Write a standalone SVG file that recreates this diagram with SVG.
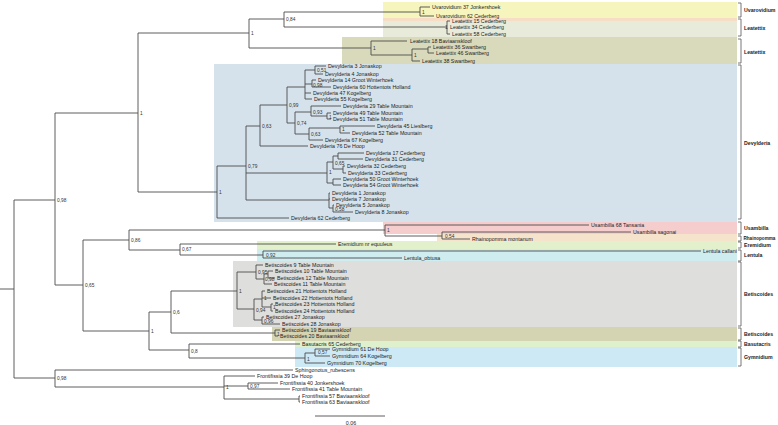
<svg xmlns="http://www.w3.org/2000/svg" width="778" height="425" viewBox="0 0 778 425">
<style>
text{font-family:"Liberation Sans",Arial,sans-serif;dominant-baseline:central}
.t{font-size:5.3px;fill:#222}
.s{font-size:4.8px;fill:#333}
.g{font-size:5.2px;font-weight:bold;fill:#222}
.e{fill:none;stroke:#4d4d4d;stroke-width:0.9}
.b{fill:none;stroke:#555;stroke-width:0.8}
</style>
<rect width="778" height="425" fill="#fff"/>
<g id="bands">
<rect x="383" y="2" width="354" height="16" fill="#f5f5bd"/>
<rect x="383" y="18" width="354" height="3" fill="#f7dcc6"/>
<rect x="383" y="21" width="354" height="16" fill="#e9ebda"/>
<rect x="342" y="37" width="395" height="27" fill="#d9dabb"/>
<rect x="214" y="64" width="523" height="158" fill="#d6e2eb"/>
<rect x="383" y="222" width="354" height="12" fill="#f6cdcd"/>
<rect x="437" y="234" width="300" height="7" fill="#f6e3cc"/>
<rect x="257" y="241" width="480" height="8" fill="#e2f1cc"/>
<rect x="257" y="249" width="480" height="12" fill="#cfecef"/>
<rect x="233" y="261" width="504" height="66" fill="#dededc"/>
<rect x="272" y="327" width="465" height="14" fill="#d4d4b3"/>
<rect x="295" y="341" width="442" height="6" fill="#dff1cc"/>
<rect x="295" y="347" width="442" height="20" fill="#cce9f5"/>
</g>
<g id="connectors" class="e">
<path d="M0 289H14M14 200V378M14 200H55M55 113V285M55 113H138M138 33V192M138 33H249M249 19V48M249 19H284M284 12V27M284 12H420M420 7V16M420 7H430M420 16H434M284 27H447M447 21V34M447 21H450M447 34H450M249 48H371M371 41V55M371 41H407M371 55H412M412 49V61M412 49H428M428 47V53M428 47H431M428 53H434M412 61H420"/>
<path d="M138 192H217M217 166V218M217 218H289M217 166H246M246 126V200M246 126H260M260 105V146M260 146H308M260 105H287M287 87V123M287 87H305M305 70V99M305 70H315M315 66V74M315 66H326M315 74H323M305 84H312M312 80V87M312 80H316M312 87H331M305 93H311M305 99H312M287 123H295M295 112V134M295 112H311M311 106V116M311 106H341M311 116H327M327 113V119M327 113H331M327 119H331M295 134H309M309 128V140M309 128H340M340 126V133M340 126H375M340 133H350M309 140H323"/>
<path d="M246 173H327M327 162V183M327 162H333M333 156V169M333 156H338M338 153V159M338 153H364M338 159H363M333 169H343M343 166V173M343 166H345M343 173H346M327 183H333M333 179V185M333 179H341M333 185H341M246 200H329M329 193V208M329 193H330M329 199H330M329 208H333M333 205V212M333 205H334M333 212H353"/>
<path d="M14 378H55M55 370V387M55 370H293M55 387H224M224 376V399M224 376H255M224 386H248M248 383V389M248 383H278M248 389H290M224 399H299M299 396V402M299 396H300M299 402H300"/>
<path d="M55 285H83M83 240V331M83 240H129M129 230V250M129 230H385M385 225V236M385 225H589M385 236H442M442 232V239M442 232H631M442 239H470M129 250H180M180 244V255M180 244H336M180 255H263M263 251V258M263 251H701M263 258H402"/>
<path d="M83 331H149M149 312V350M149 312H171M171 291V333M171 291H237M237 272V309M237 272H256M256 265V279M256 265H263M256 279H264M264 274V284M264 274H268M268 271V278M268 271H273M268 278H275M264 284H272M237 309H254M254 299V320M254 299H262M262 291V307M262 291H265M262 298H271M262 307H271M271 304V311M271 304H273M271 311H273M254 320H262M262 317V324M262 317H264M262 324H280M171 333H275M275 330V336M275 330H280M275 336H278M149 350H189M189 344V358M189 344H300M189 358H305M305 353V363M305 353H315M315 349V356M315 349H330M315 356H330M305 363H325"/>
<path d="M315 416H385"/>
</g>
<g id="support" class="s">
<text x="57" y="200">0,98</text><text x="140" y="113">1</text><text x="251" y="33">1</text><text x="286" y="19">0,84</text><text x="422" y="12">1</text><text x="445" y="27">1</text><text x="373" y="48">1</text><text x="414" y="55">1</text>
<text x="219" y="192">1</text><text x="248" y="166">0,79</text><text x="262" y="126">0,63</text><text x="289" y="105">0,99</text><text x="317" y="70">0,51</text><text x="313" y="85">0,98</text><text x="297" y="123">0,74</text><text x="313" y="112">0,93</text><text x="329" y="117">1</text><text x="311" y="134">0,63</text><text x="342" y="129">1</text>
<text x="329" y="172">1</text><text x="335" y="163">0,65</text><text x="335" y="209">0,58</text>
<text x="57" y="378">0,98</text><text x="226" y="387">1</text><text x="250" y="386">0,97</text>
<text x="85" y="285">0,65</text><text x="131" y="240">0,86</text><text x="387" y="230">1</text><text x="445" y="236">0,54</text><text x="182" y="249">0,67</text><text x="266" y="255">0,92</text>
<text x="151" y="331">1</text><text x="173" y="312">0,6</text><text x="239" y="291">1</text><text x="258" y="272">0,95</text><text x="265" y="279">0,98</text><text x="256" y="310">0,94</text><text x="264" y="298">1</text><text x="273" y="307">1</text><text x="264" y="321">0,96</text><text x="277" y="334">1</text><text x="191" y="351">0,8</text><text x="307" y="359">1</text><text x="318" y="352">0,57</text>
</g>
<g id="tips" class="t">
<g id="n-uva37"><text x="432" y="7">Uvarovidium 37 Jonkershoek</text></g>
<g id="n-uva62"><text x="436" y="16">Uvarovidium 62 Cederberg</text></g>
<g id="n-lea15"><text x="452" y="21">Leatettix 15 Cederberg</text></g>
<g id="n-lea34"><text x="450" y="27">Leatettix 34 Cederberg</text></g>
<g id="n-lea58"><text x="452" y="34">Leatettix 58 Cederberg</text></g>
<g id="n-lea18"><text x="410" y="41">Leatettix 18 Baviaanskloof</text></g>
<g id="n-lea36"><text x="433" y="47">Leatettix 36 Swartberg</text></g>
<g id="n-lea46"><text x="436" y="53">Leatettix 46 Swartberg</text></g>
<g id="n-lea38"><text x="422" y="61">Leatettix 38 Swartberg</text></g>
<g id="n-dev3"><text x="328" y="66">Devylderia 3 Jonaskop</text></g>
<g id="n-dev4"><text x="325" y="74">Devylderia 4 Jonaskop</text></g>
<g id="n-dev14"><text x="318" y="80">Devylderia 14 Groot Winterhoek</text></g>
<g id="n-dev60"><text x="333" y="87">Devylderia 60 Hottentots Holland</text></g>
<g id="n-dev47"><text x="313" y="93">Devylderia 47 Kogelberg</text></g>
<g id="n-dev55"><text x="314" y="99">Devylderia 55 Kogelberg</text></g>
<g id="n-dev29"><text x="343" y="106">Devylderia 29 Table Mountain</text></g>
<g id="n-dev49"><text x="333" y="113">Devylderia 49 Table Mountain</text></g>
<g id="n-dev51"><text x="333" y="119">Devylderia 51 Table Mountain</text></g>
<g id="n-dev45"><text x="377" y="126">Devylderia 45 Lieslberg</text></g>
<g id="n-dev52"><text x="352" y="133">Devylderia 52 Table Mountain</text></g>
<g id="n-dev67"><text x="325" y="140">Devylderia 67 Kogelberg</text></g>
<g id="n-dev76"><text x="310" y="146">Devylderia 76 De Hoop</text></g>
<g id="n-dev17"><text x="366" y="153">Devylderia 17 Cederberg</text></g>
<g id="n-dev31"><text x="365" y="159">Devylderia 31 Cederberg</text></g>
<g id="n-dev32"><text x="347" y="166">Devylderia 32 Cederberg</text></g>
<g id="n-dev33"><text x="348" y="173">Devylderia 33 Cederberg</text></g>
<g id="n-dev50"><text x="343" y="179">Devylderia 50 Groot Winterhoek</text></g>
<g id="n-dev54"><text x="343" y="185">Devylderia 54 Groot Winterhoek</text></g>
<g id="n-dev1"><text x="332" y="193">Devylderia 1 Jonaskop</text></g>
<g id="n-dev7"><text x="332" y="199">Devylderia 7 Jonaskop</text></g>
<g id="n-dev5"><text x="336" y="205">Devylderia 5 Jonaskop</text></g>
<g id="n-dev8"><text x="355" y="212">Devylderia 8 Jonaskop</text></g>
<g id="n-dev62"><text x="291" y="218">Devylderia 62 Cederberg</text></g>
<g id="n-usa68"><text x="591" y="225">Usambilla 68 Tansania</text></g>
<g id="n-usasag"><text x="633" y="232">Usambilla sagonai</text></g>
<g id="n-rha"><text x="472" y="239">Rhainopomma montanum</text></g>
<g id="n-ere"><text x="338" y="244">Eremidium nr equuleus</text></g>
<g id="n-lencal"><text x="703" y="251">Lentula callani</text></g>
<g id="n-lenobt"><text x="404" y="258">Lentula_obtusa</text></g>
<g id="n-bet9"><text x="265" y="265">Betiscoides 9 Table Mountain</text></g>
<g id="n-bet10"><text x="275" y="271">Betiscoides 10 Table Mountain</text></g>
<g id="n-bet12"><text x="277" y="278">Betiscoides 12 Table Mountain</text></g>
<g id="n-bet11"><text x="274" y="284">Betiscoides 11 Table Mountain</text></g>
<g id="n-bet21"><text x="267" y="291">Betiscoides 21 Hottentots Holland</text></g>
<g id="n-bet22"><text x="273" y="298">Betiscoides 22 Hottentots Holland</text></g>
<g id="n-bet23"><text x="275" y="304">Betiscoides 23 Hottentots Holland</text></g>
<g id="n-bet24"><text x="275" y="311">Betiscoides 24 Hottentots Holland</text></g>
<g id="n-bet27"><text x="266" y="317">Betiscoides 27 Jonaskop</text></g>
<g id="n-bet28"><text x="282" y="324">Betiscoides 28 Jonaskop</text></g>
<g id="n-bet19"><text x="282" y="330">Betiscoides 19 Baviaanskloof</text></g>
<g id="n-bet20"><text x="280" y="336">Betiscoides 20 Baviaanskloof</text></g>
<g id="n-bas65"><text x="302" y="344">Basutacris 65 Cederberg</text></g>
<g id="n-gym61"><text x="332" y="349">Gymnidium 61 De Hoop</text></g>
<g id="n-gym64"><text x="332" y="356">Gymnidium 64 Kogelberg</text></g>
<g id="n-gym70"><text x="327" y="363">Gymnidium 70 Kogelberg</text></g>
<g id="n-sph"><text x="295" y="370">Sphingonotus_rubescens</text></g>
<g id="n-fro39"><text x="257" y="376">Frontifissia 39 De Hoop</text></g>
<g id="n-fro40"><text x="280" y="383">Frontifissia 40 Jonkershoek</text></g>
<g id="n-fro41"><text x="292" y="389">Frontifissia 41 Table Mountain</text></g>
<g id="n-fro57"><text x="302" y="396">Frontifissia 57 Baviaanskloof</text></g>
<g id="n-fro63"><text x="302" y="402">Frontifissia 63 Baviaanskloof</text></g>
</g>
<g id="brackets">
<path class="b" d="M738 3H741V17H738M738 19H741V36H738M738 39H741V63H738M738 65H741V219H738M738 222H741V234H738M738 236H741V241H738M738 242H741V248H738M738 250H741V261H738M738 262H741V326H738M738 328H741V340H738M738 341H741V347H738M738 348H741V366H738"/>
<text class="g" x="744" y="10">Uvarovidium</text>
<text class="g" x="744" y="28">Leatettix</text>
<text class="g" x="744" y="52">Leatettix</text>
<text class="g" x="744" y="143">Devylderia</text>
<text class="g" x="744" y="228">Usambilla</text>
<text class="g" x="743.5" y="238" style="font-size:4.6px">Rhainopomma</text>
<text class="g" x="744" y="245">Eremidium</text>
<text class="g" x="744" y="255">Lentula</text>
<text class="g" x="744" y="294">Betiscoides</text>
<text class="g" x="744" y="334">Betiscoides</text>
<text class="g" x="744" y="344">Basutacris</text>
<text class="g" x="744" y="357">Gymnidium</text>
</g>
<g id="scale"><text class="t" x="351" y="423" text-anchor="middle">0.06</text></g>
</svg>
